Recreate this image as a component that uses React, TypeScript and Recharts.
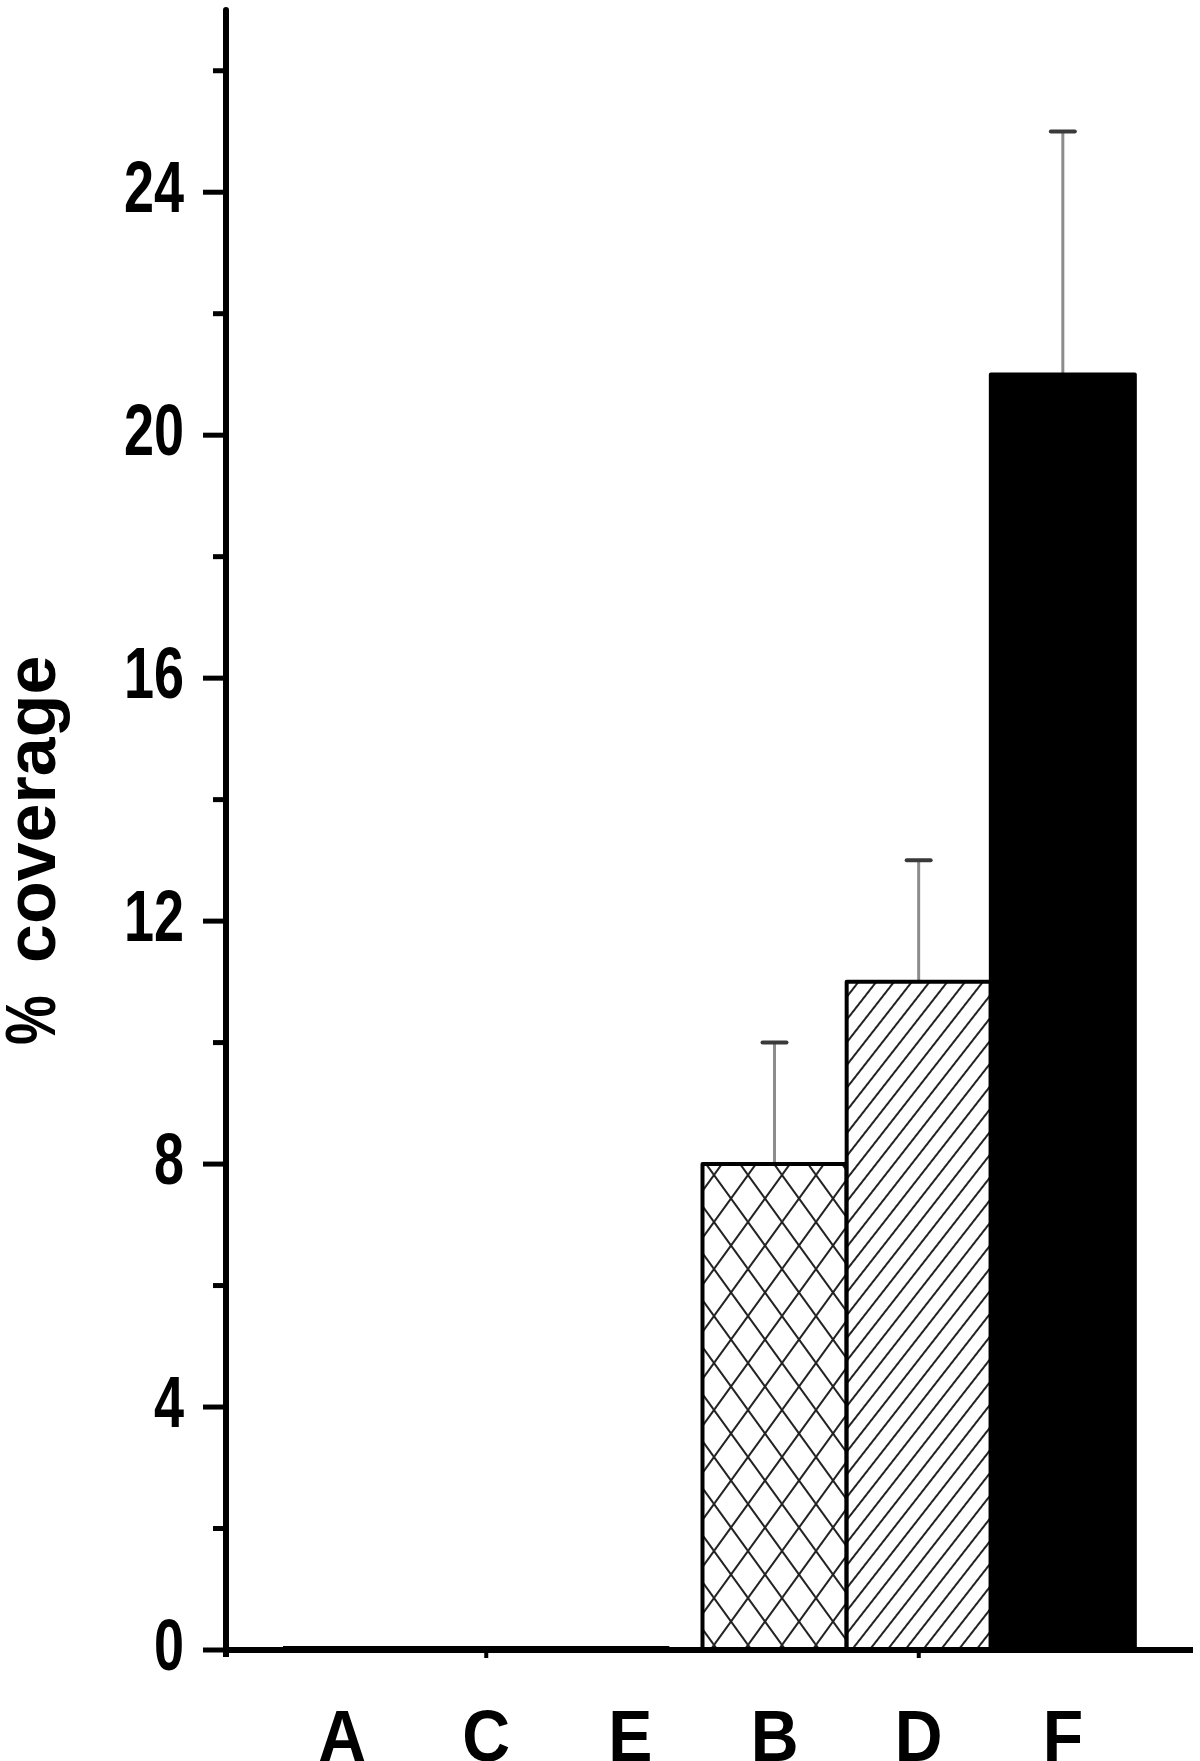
import React from 'react';
import { BarChart, Bar, XAxis, YAxis } from 'recharts';

// ---- data ----
const categories = ['A', 'C', 'E', 'B', 'D', 'F'];
const coverage = [0, 0, 0, 8, 11, 21];
const errorsUp = [0, 0, 0, 2, 2, 4];
const fills = ['#fff', '#fff', '#fff', 'url(#crosshatch)', 'url(#diagonal)', '#000'];
const yTicks = [0, 2, 4, 6, 8, 10, 12, 14, 16, 18, 20, 22, 24, 26];
const majorTicks = [0, 4, 8, 12, 16, 20, 24];
const tickedCategories = ['C', 'D'];
const yTitlePercent = '%';
const yTitleWord = 'coverage';

const data = categories.map((c, i) => ({ cat: c, value: coverage[i], err: errorsUp[i], fill: fills[i] }));

const FONT = "'Liberation Sans', Arial, Helvetica, sans-serif";

const BarShape = (props: any) => {
  const { x, y, width, height, payload, index } = props;
  if (!payload || !payload.value || !height) {
    const prevZero = index > 0 && coverage[index - 1] === 0;
    const nextZero = index < coverage.length - 1 && coverage[index + 1] === 0;
    const left = prevZero ? x - 1 : x + 13;
    const right = nextZero ? x + width + 1 : x + width - 33;
    return <rect x={left} y={y - 4} width={Math.max(right - left, 0)} height={5} fill="#000" />;
  }
  const pxPerUnit = height / payload.value;
  const errTop = y - payload.err * pxPerUnit;
  const cx = x + width / 2;
  return (
    <g>
      <line x1={cx} x2={cx} y1={errTop} y2={y} stroke="#8c8c8c" strokeWidth={3} />
      <line x1={cx - 12} x2={cx + 12} y1={errTop} y2={errTop} stroke="#3a3a3a" strokeWidth={4} strokeLinecap="round" />
      <rect x={x} y={y} width={width} height={height} fill={payload.fill} stroke="#000" strokeWidth={4} strokeLinejoin="round" />
    </g>
  );
};

const YTick = (props: any) => {
  const { x, y, payload } = props;
  const v = payload.value;
  const major = majorTicks.includes(v);
  return (
    <g>
      <line x1={x - (major ? 23 : 13)} x2={x} y1={y} y2={y} stroke="#000" strokeWidth={5} />
      {v === 0 && <line x1={x} x2={x} y1={y} y2={y + 7} stroke="#000" strokeWidth={6} />}
      {major && (
        <text
          transform={`translate(${x - 42},${y + 20}) scale(0.75,1)`}
          textAnchor="end"
          fontFamily={FONT}
          fontWeight="bold"
          fontSize={72}
          fill="#000"
        >
          {v}
        </text>
      )}
    </g>
  );
};

const XTick = (props: any) => {
  const { x, y, payload } = props;
  return (
    <g>
      {tickedCategories.includes(payload.value) && (
        <line x1={x} x2={x} y1={y} y2={y + 8} stroke="#000" strokeWidth={4} />
      )}
      <text
        transform={`translate(${x},${y + 111}) scale(0.92,1)`}
        textAnchor="middle"
        fontFamily={FONT}
        fontWeight="bold"
        fontSize={72}
        fill="#000"
      >
        {payload.value}
      </text>
    </g>
  );
};

const TitleLabel = (props: any) => {
  const vb = props.viewBox || { x: 0, y: 10, width: 226, height: 1640 };
  const cy = vb.y + vb.height / 2 + 15;
  const bx = 55;
  return (
    <g fontFamily={FONT} fontWeight="bold" fill="#000">
      <text transform={`translate(${bx},${cy + 200}) rotate(-90) scale(0.8,1)`} fontSize={70}>
        {yTitlePercent}
      </text>
      <text transform={`translate(${bx},${cy + 118}) rotate(-90)`} fontSize={70}>
        {yTitleWord}
      </text>
    </g>
  );
};

export default function App() {
  return (
    <div style={{ position: 'absolute', left: 0, top: 0, width: 1200, height: 1761, background: '#fff' }}>
      <svg width={0} height={0} style={{ position: 'absolute' }}>
        <defs>
          <pattern id="crosshatch" patternUnits="userSpaceOnUse" width={34} height={47}>
            <rect width={34} height={47} fill="#fff" />
            <line x1={0} y1={0} x2={34} y2={47} stroke="#222" strokeWidth={2} />
            <line x1={34} y1={0} x2={0} y2={47} stroke="#222" strokeWidth={2} />
          </pattern>
          <pattern id="diagonal" patternUnits="userSpaceOnUse" width={14} height={14} patternTransform="rotate(38)">
            <rect width={14} height={14} fill="#fff" />
            <line x1={7} y1={0} x2={7} y2={14} stroke="#222" strokeWidth={2} />
          </pattern>
        </defs>
      </svg>
      <BarChart
        width={1200}
        height={1761}
        data={data}
        margin={{ top: 10, right: 7, bottom: 0, left: 0 }}
        barCategoryGap={0}
        barGap={0}
      >
        <XAxis
          dataKey="cat"
          height={111}
          padding={{ left: 44, right: 58 }}
          axisLine={{ stroke: '#000', strokeWidth: 6 }}
          tickLine={false}
          tickSize={0}
          tickMargin={0}
          interval={0}
          tick={<XTick />}
        />
        <YAxis
          width={226}
          domain={[0, 27]}
          ticks={yTicks}
          interval={0}
          allowDataOverflow
          axisLine={{ stroke: '#000', strokeWidth: 6, strokeLinecap: 'round' }}
          tickLine={false}
          tickSize={0}
          tickMargin={0}
          tick={<YTick />}
          label={<TitleLabel />}
        />
        <Bar dataKey="value" isAnimationActive={false} shape={<BarShape />} />
      </BarChart>
    </div>
  );
}
